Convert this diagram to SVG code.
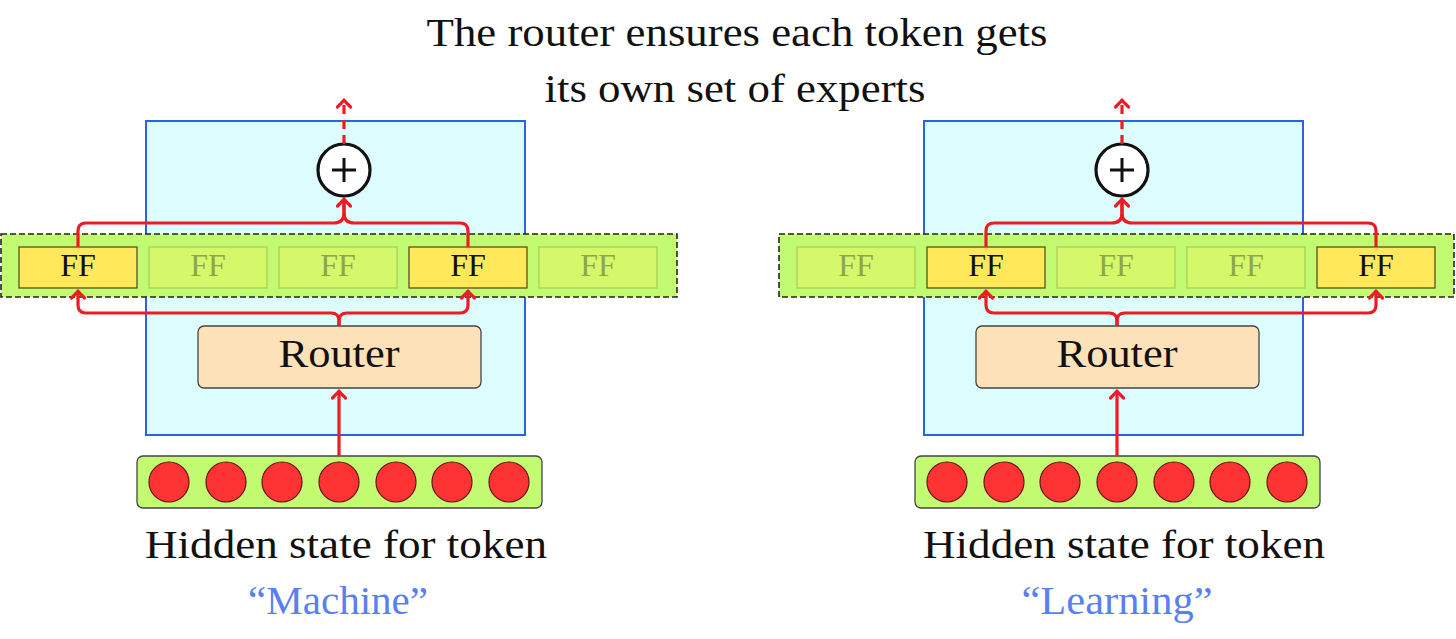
<svg xmlns="http://www.w3.org/2000/svg" width="1456" height="639" viewBox="0 0 1456 639">
<style>
.txt{font-family:"Liberation Serif","DejaVu Serif",serif;fill:#111}
.blue{fill:#dcfcfd;stroke:#2a63dd;stroke-width:2}
.band{fill:#c2fb72;stroke:#222;stroke-width:1.6;stroke-dasharray:6 3}
.ffon{fill:#ffe95a;stroke:#5a5020;stroke-width:1.3}
.ffoff{fill:#d5f76a;stroke:#a9cf5a;stroke-width:1.3}
.fft{font-family:"Liberation Serif","DejaVu Serif",serif;font-size:32px;text-anchor:middle}
.on{fill:#111}
.off{fill:#8aa84a}
.router{fill:#fde2b9;stroke:#444;stroke-width:1.3}
.hs{fill:#c2fb72;stroke:#444;stroke-width:1.3}
.dot{fill:#fe3333;stroke:#6a1010;stroke-width:1.2}
.plus{fill:#fff;stroke:#111;stroke-width:3.2}
.conn{fill:none;stroke:#ec1c24;stroke-width:3.2;stroke-linejoin:round}
.dash{stroke-dasharray:9 6}
.tok{fill:#5a7ff4}
</style>
<defs>
<marker id="ah" viewBox="-10 -10 14 20" refX="0" refY="0" markerWidth="14" markerHeight="20" markerUnits="userSpaceOnUse" orient="auto" overflow="visible">
<path d="M -7 -6.5 Q -2 -1.5 0 0 Q -2 1.5 -7 6.5" fill="none" stroke="#ec1c24" stroke-width="3.2" stroke-linecap="round" stroke-linejoin="round" stroke-dasharray="none"/>
</marker>
</defs>
<rect width="1456" height="639" fill="#fff"/>
<g id="title">
<text class="txt" x="737" y="46" font-size="40" text-anchor="middle" textLength="621" lengthAdjust="spacingAndGlyphs">The router ensures each token gets</text>
<text class="txt" x="735" y="102" font-size="40" text-anchor="middle" textLength="381" lengthAdjust="spacingAndGlyphs">its own set of experts</text>
</g>
<!-- Left panel -->
<g id="left-block"><rect class="blue" x="146" y="121" width="379" height="314"/></g>
<g id="left-experts">
<rect class="band" x="1" y="234" width="676" height="63"/>
<g id="left-ff1"><rect class="ffon" x="19" y="247" width="118" height="41"/><text class="fft on" x="78" y="276">FF</text></g>
<g id="left-ff2"><rect class="ffoff" x="149" y="247" width="118" height="41"/><text class="fft off" x="208" y="276">FF</text></g>
<g id="left-ff3"><rect class="ffoff" x="279" y="247" width="118" height="41"/><text class="fft off" x="338" y="276">FF</text></g>
<g id="left-ff4"><rect class="ffon" x="409" y="247" width="118" height="41"/><text class="fft on" x="468" y="276">FF</text></g>
<g id="left-ff5"><rect class="ffoff" x="539" y="247" width="118" height="41"/><text class="fft off" x="598" y="276">FF</text></g>
</g>
<g id="left-sum"><circle class="plus" cx="344" cy="170" r="26"/><path d="M332 170 H356 M344 158 V182" stroke="#111" stroke-width="3" fill="none"/></g>
<g id="left-router"><rect class="router" x="198" y="326" width="283" height="62" rx="6"/><text class="txt" x="339" y="367" font-size="40" text-anchor="middle" textLength="121" lengthAdjust="spacingAndGlyphs">Router</text></g>
<g id="left-hidden">
<rect class="hs" x="137" y="456" width="405" height="52" rx="6"/>
<circle class="dot" cx="169" cy="482" r="20"/><circle class="dot" cx="226" cy="482" r="20"/><circle class="dot" cx="282" cy="482" r="20"/><circle class="dot" cx="339" cy="482" r="20"/><circle class="dot" cx="396" cy="482" r="20"/><circle class="dot" cx="452" cy="482" r="20"/><circle class="dot" cx="509" cy="482" r="20"/>
<text class="txt" x="346" y="558" font-size="40" text-anchor="middle" textLength="402" lengthAdjust="spacingAndGlyphs">Hidden state for token</text>
<text class="txt tok" x="338" y="614" font-size="40" text-anchor="middle" textLength="180" lengthAdjust="spacingAndGlyphs">“Machine”</text>
</g>
<!-- Right panel -->
<g id="right-block"><rect class="blue" x="924" y="121" width="379" height="314"/></g>
<g id="right-experts">
<rect class="band" x="779" y="234" width="675" height="63"/>
<g id="right-ff1"><rect class="ffoff" x="797" y="247" width="118" height="41"/><text class="fft off" x="856" y="276">FF</text></g>
<g id="right-ff2"><rect class="ffon" x="927" y="247" width="118" height="41"/><text class="fft on" x="986" y="276">FF</text></g>
<g id="right-ff3"><rect class="ffoff" x="1057" y="247" width="118" height="41"/><text class="fft off" x="1116" y="276">FF</text></g>
<g id="right-ff4"><rect class="ffoff" x="1187" y="247" width="118" height="41"/><text class="fft off" x="1246" y="276">FF</text></g>
<g id="right-ff5"><rect class="ffon" x="1317" y="247" width="118" height="41"/><text class="fft on" x="1376" y="276">FF</text></g>
</g>
<g id="right-sum"><circle class="plus" cx="1122" cy="170" r="26"/><path d="M1110 170 H1134 M1122 158 V182" stroke="#111" stroke-width="3" fill="none"/></g>
<g id="right-router"><rect class="router" x="976" y="326" width="283" height="62" rx="6"/><text class="txt" x="1117" y="367" font-size="40" text-anchor="middle" textLength="121" lengthAdjust="spacingAndGlyphs">Router</text></g>
<g id="right-hidden">
<rect class="hs" x="915" y="456" width="405" height="52" rx="6"/>
<circle class="dot" cx="947" cy="482" r="20"/><circle class="dot" cx="1004" cy="482" r="20"/><circle class="dot" cx="1060" cy="482" r="20"/><circle class="dot" cx="1117" cy="482" r="20"/><circle class="dot" cx="1174" cy="482" r="20"/><circle class="dot" cx="1230" cy="482" r="20"/><circle class="dot" cx="1287" cy="482" r="20"/>
<text class="txt" x="1124" y="558" font-size="40" text-anchor="middle" textLength="402" lengthAdjust="spacingAndGlyphs">Hidden state for token</text>
<text class="txt tok" x="1117" y="614" font-size="40" text-anchor="middle" textLength="191" lengthAdjust="spacingAndGlyphs">“Learning”</text>
</g>
<g id="connectors">
<path class="conn dash" d="M344 144 V100" marker-end="url(#ah)"/>
<path class="conn" d="M78 247 V231 Q78 223 86 223 H334 Q344 223 344 213 V199" marker-end="url(#ah)"/>
<path class="conn" d="M468 247 V231 Q468 223 460 223 H354 Q344 223 344 213 V199"/>
<path class="conn" d="M339 326 V321 Q339 313 331 313 H86 Q78 313 78 305 V291" marker-end="url(#ah)"/>
<path class="conn" d="M339 326 V321 Q339 313 347 313 H460 Q468 313 468 305 V291" marker-end="url(#ah)"/>
<path class="conn" d="M339 456 V391" marker-end="url(#ah)"/>
<path class="conn dash" d="M1122 144 V100" marker-end="url(#ah)"/>
<path class="conn" d="M986 247 V231 Q986 223 994 223 H1112 Q1122 223 1122 213 V199" marker-end="url(#ah)"/>
<path class="conn" d="M1376 247 V231 Q1376 223 1368 223 H1132 Q1122 223 1122 213 V199"/>
<path class="conn" d="M1117 326 V321 Q1117 313 1109 313 H994 Q986 313 986 305 V291" marker-end="url(#ah)"/>
<path class="conn" d="M1117 326 V321 Q1117 313 1125 313 H1368 Q1376 313 1376 305 V291" marker-end="url(#ah)"/>
<path class="conn" d="M1117 456 V391" marker-end="url(#ah)"/>
</g>
</svg>
